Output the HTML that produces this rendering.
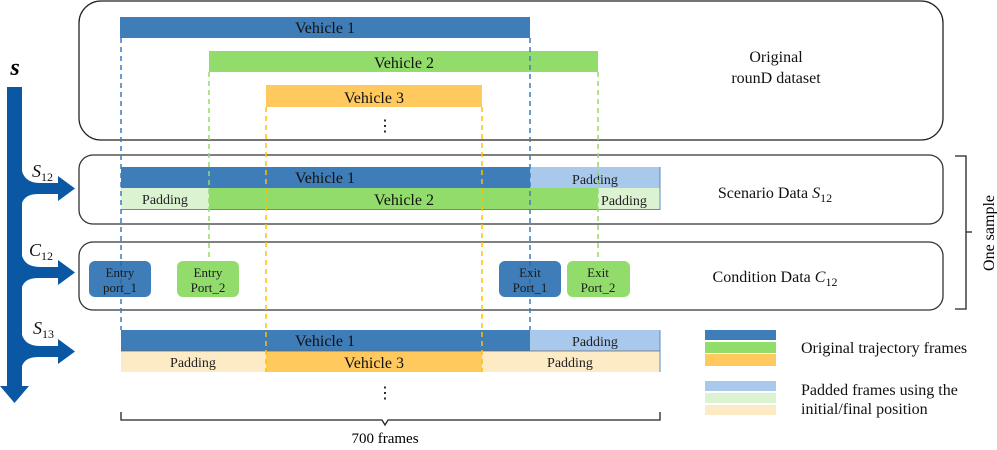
<!DOCTYPE html>
<html><head><meta charset="utf-8"><style>
body{margin:0;background:#fff}
svg{display:block;font-family:"Liberation Serif",serif}
</style></head><body>
<svg width="997" height="450" viewBox="0 0 997 450" xmlns="http://www.w3.org/2000/svg">
<!-- boxes -->
<rect x="79" y="1" width="864" height="139" rx="22" fill="none" stroke="#222" stroke-width="1.3"/>
<rect x="79" y="155" width="864" height="69" rx="14" fill="none" stroke="#333" stroke-width="1.3"/>
<rect x="79" y="242" width="864" height="68" rx="14" fill="none" stroke="#333" stroke-width="1.3"/>
<!-- top bars -->
<rect x="120" y="17" width="410" height="21" fill="#3f7db8"/>
<rect x="209" y="51" width="389" height="21" fill="#92dc6c"/>
<rect x="266" y="85" width="216" height="22" fill="#ffc95e"/>
<g font-size="16" text-anchor="middle" fill="#111">
<text x="325" y="33">Vehicle 1</text>
<text x="404" y="68">Vehicle 2</text>
<text x="374" y="103">Vehicle 3</text>
</g>
<text x="385" y="131" font-size="16" text-anchor="middle">⋮</text>
<!-- S12 -->
<rect x="121" y="167" width="409" height="21" fill="#3f7db8"/>
<rect x="530" y="167" width="130" height="21" fill="#a8c8ec"/>
<rect x="121" y="188" width="88" height="21" fill="#dbf3d0"/>
<rect x="209" y="188" width="389" height="21" fill="#92dc6c"/>
<rect x="598" y="188" width="62" height="21" fill="#dbf3d0"/>
<line x1="121" y1="209.5" x2="660" y2="209.5" stroke="#5a8cc0"/>
<line x1="660" y1="167" x2="660" y2="210" stroke="#5a8cc0"/>
<g font-size="16" text-anchor="middle" fill="#111">
<text x="325" y="183">Vehicle 1</text>
<text x="404" y="205">Vehicle 2</text>
</g>
<g font-size="14" text-anchor="middle" fill="#222">
<text x="595" y="184">Padding</text>
<text x="165" y="204">Padding</text>
<text x="624" y="205">Padding</text>
</g>
<!-- S13 -->
<rect x="121" y="330" width="409" height="21" fill="#3f7db8"/>
<rect x="530" y="330" width="130" height="21" fill="#a8c8ec"/>
<rect x="121" y="351" width="145" height="21" fill="#fdebc6"/>
<rect x="266" y="351" width="216" height="21" fill="#ffc95e"/>
<rect x="482" y="351" width="178" height="21" fill="#fdebc6"/>
<line x1="121" y1="351" x2="660" y2="351" stroke="#666" stroke-width="0.8"/>
<line x1="660" y1="330" x2="660" y2="372" stroke="#5a8cc0"/>
<g font-size="16" text-anchor="middle" fill="#111">
<text x="325" y="346">Vehicle 1</text>
<text x="374" y="368">Vehicle 3</text>
</g>
<g font-size="14" text-anchor="middle" fill="#222">
<text x="595" y="346">Padding</text>
<text x="193" y="367">Padding</text>
<text x="570" y="367">Padding</text>
</g>
<text x="385" y="398" font-size="16" text-anchor="middle">⋮</text>
<!-- dashed lines -->
<g stroke-width="1.5" stroke-dasharray="5,4" fill="none">
<line x1="121" y1="38" x2="121" y2="330" stroke="#3f7db8"/>
<line x1="530" y1="38" x2="530" y2="330" stroke="#3f7db8"/>
<line x1="209" y1="72" x2="209" y2="261" stroke="#92dc6c"/>
<line x1="598" y1="72" x2="598" y2="261" stroke="#92dc6c"/>
<line x1="266" y1="107" x2="266" y2="372" stroke="#ffc000"/>
<line x1="482" y1="107" x2="482" y2="372" stroke="#ffc000"/>
</g>
<!-- condition boxes -->
<rect x="89" y="261" width="62" height="36" rx="6" fill="#3f7db8"/>
<rect x="177" y="261" width="62" height="36" rx="6" fill="#92dc6c"/>
<rect x="499" y="261" width="62" height="36" rx="6" fill="#3f7db8"/>
<rect x="567" y="261" width="63" height="36" rx="6" fill="#92dc6c"/>
<line x1="121" y1="261" x2="121" y2="297" stroke="#2f6aa5" stroke-width="1.5" stroke-dasharray="5,4"/>
<line x1="530" y1="261" x2="530" y2="297" stroke="#2f6aa5" stroke-width="1.5" stroke-dasharray="5,4"/>
<g font-size="13" text-anchor="middle" fill="#1a1a1a">
<text x="120" y="277">Entry</text><text x="120" y="292">port_1</text>
<text x="208" y="277">Entry</text><text x="208" y="292">Port_2</text>
<text x="530" y="277">Exit</text><text x="530" y="292">Port_1</text>
<text x="598" y="277">Exit</text><text x="598" y="292">Port_2</text>
</g>
<!-- right texts -->
<g font-size="16" text-anchor="middle" fill="#111">
<text x="776" y="62">Original</text>
<text x="776" y="83">rounD dataset</text>
<text x="775" y="198">Scenario Data <tspan font-style="italic">S</tspan><tspan font-size="12" dy="4">12</tspan></text>
<text x="775" y="282">Condition Data <tspan font-style="italic">C</tspan><tspan font-size="12" dy="4">12</tspan></text>
</g>
<!-- brace -->
<path d="M955 156 H966 V232 L972 232 M966 232 V309 H955" fill="none" stroke="#222" stroke-width="1.3"/>
<text transform="translate(994 233) rotate(-90)" font-size="16" text-anchor="middle">One sample</text>
<!-- legend -->
<rect x="705" y="330" width="71" height="10" fill="#3f7db8"/>
<rect x="705" y="342" width="71" height="11" fill="#92dc6c"/>
<rect x="705" y="354" width="71" height="12" fill="#ffc95e"/>
<rect x="705" y="381" width="71" height="10" fill="#a8c8ec"/>
<rect x="705" y="393" width="71" height="10" fill="#dbf3d0"/>
<rect x="705" y="405" width="71" height="10" fill="#fdebc6"/>
<g font-size="16" fill="#111">
<text x="801" y="353">Original trajectory frames</text>
<text x="801" y="395">Padded frames using the</text>
<text x="801" y="414">initial/final position</text>
</g>
<!-- bottom bracket -->
<path d="M121 412 V420 H382 L385 425 L388 420 H660 V412" fill="none" stroke="#222" stroke-width="1.3"/>
<text x="385" y="443" font-size="15" text-anchor="middle">700 frames</text>
<!-- left arrow -->
<text x="15" y="75" font-size="24" font-weight="bold" font-style="italic" text-anchor="middle">s</text>
<g fill="#0a58a4">
<rect x="7" y="87" width="15" height="300"/>
<polygon points="0,386 29,386 14.5,403"/>
<path d="M21 165 Q22 183 40 183 H58 V176 L75 188.5 L58 201 V194 H38 Q22 194 21 208 Z"/>
<path d="M21 250 Q22 267 40 267 H58 V260 L75 272.5 L58 285 V278 H38 Q22 278 21 292 Z"/>
<path d="M21 329 Q22 346 40 346 H58 V339 L75 351.5 L58 364 V357 H38 Q22 357 21 371 Z"/>
</g>
<g font-size="18" font-style="italic" fill="#111">
<text x="32" y="177">S<tspan font-size="12" font-style="normal" dy="4">12</tspan></text>
<text x="29" y="256">C<tspan font-size="12" font-style="normal" dy="4">12</tspan></text>
<text x="33" y="334">S<tspan font-size="12" font-style="normal" dy="4">13</tspan></text>
</g>
</svg>
</body></html>
